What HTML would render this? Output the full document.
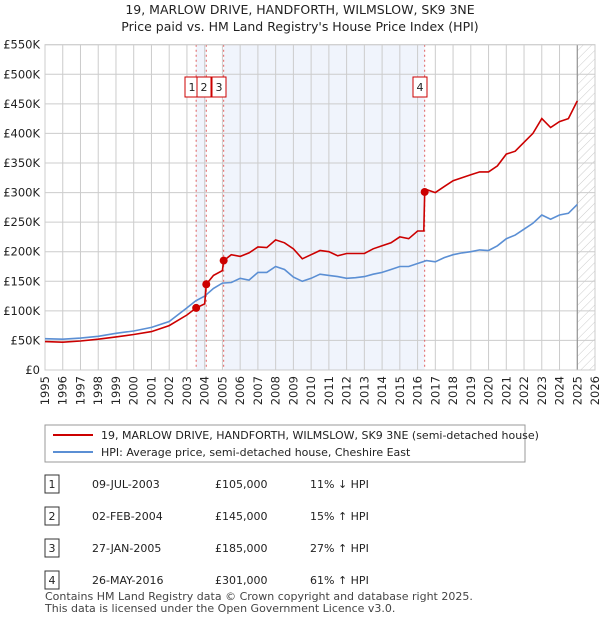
<!DOCTYPE html>
<html><head><meta charset="utf-8"><style>
body{margin:0;background:#fff;font-family:"Liberation Sans","DejaVu Sans",sans-serif;}
svg text{font-family:"DejaVu Sans","Liberation Sans",sans-serif;}
</style></head><body>
<svg id="chart" width="600" height="620" xmlns="http://www.w3.org/2000/svg">
<defs><pattern id="hatch" width="6" height="6" patternUnits="userSpaceOnUse" patternTransform="rotate(45)"><line x1="0" y1="0" x2="0" y2="6" stroke="#ccc" stroke-width="1"/></pattern></defs>
<text x="300" y="14" text-anchor="middle" font-size="12.5" fill="#222">19, MARLOW DRIVE, HANDFORTH, WILMSLOW, SK9 3NE</text>
<text x="300" y="31" text-anchor="middle" font-size="12.5" fill="#222">Price paid vs. HM Land Registry's House Price Index (HPI)</text>
<g id="plot"></g>
<g id="legend">
<rect x="45" y="425" width="480" height="37" fill="#fff" stroke="#999"/>
<line x1="53" y1="435" x2="93" y2="435" stroke="#cc0000" stroke-width="2"/>
<text x="101" y="439" font-size="11" fill="#222">19, MARLOW DRIVE, HANDFORTH, WILMSLOW, SK9 3NE (semi-detached house)</text>
<line x1="53" y1="452" x2="93" y2="452" stroke="#5b8fd4" stroke-width="2"/>
<text x="101" y="456" font-size="11" fill="#222">HPI: Average price, semi-detached house, Cheshire East</text>
</g>
<g id="table" font-size="11" fill="#222"></g>
<text x="45" y="600" font-size="11" fill="#444">Contains HM Land Registry data © Crown copyright and database right 2025.</text>
<text x="45" y="612" font-size="11" fill="#444">This data is licensed under the Open Government Licence v3.0.</text>
</svg>
<script>
const yTicks=[0,50,100,150,200,250,300,350,400,450,500,550];
const yTickLabels=["£0","£50K","£100K","£150K","£200K","£250K","£300K","£350K","£400K","£450K","£500K","£550K"];
const xYears=[1995,1996,1997,1998,1999,2000,2001,2002,2003,2004,2005,2006,2007,2008,2009,2010,2011,2012,2013,2014,2015,2016,2017,2018,2019,2020,2021,2022,2023,2024,2025,2026];
const hpiT=[1995,1996,1997,1998,1999,2000,2001,2002,2003,2003.5,2004,2004.5,2005,2005.5,2006,2006.5,2007,2007.5,2008,2008.5,2009,2009.5,2010,2010.5,2011,2011.5,2012,2012.5,2013,2013.5,2014,2014.5,2015,2015.5,2016,2016.5,2017,2017.5,2018,2018.5,2019,2019.5,2020,2020.5,2021,2021.5,2022,2022.5,2023,2023.5,2024,2024.5,2025];
const hpiV=[53,52,54,57,62,66,72,82,105,117,125,138,147,148,155,152,165,165,175,170,157,150,155,162,160,158,155,156,158,162,165,170,175,175,180,185,183,190,195,198,200,203,202,210,222,228,238,248,262,255,262,265,280];
const redT=[1995,1996,1997,1998,1999,2000,2001,2002,2003,2003.52,2004.0,2004.09,2004.5,2005.0,2005.07,2005.5,2006,2006.5,2007,2007.5,2008,2008.5,2009,2009.5,2010,2010.5,2011,2011.5,2012,2012.5,2013,2013.5,2014,2014.5,2015,2015.5,2016,2016.35,2016.4,2016.5,2017,2017.5,2018,2018.5,2019,2019.5,2020,2020.5,2021,2021.5,2022,2022.5,2023,2023.5,2024,2024.5,2025];
const redV=[48,47,49,52,56,60,65,75,93,105,112,145,160,168,185,195,192,198,208,207,220,215,205,188,195,202,200,193,197,197,197,205,210,215,225,222,235,235,301,305,300,310,320,325,330,335,335,345,365,370,385,400,425,410,420,425,455];
const saleT=[2003.52,2004.09,2005.07,2016.4];
const saleV=[105,145,185,301];
const saleLabels=["1","2","3","4"];
const saleDates=["09-JUL-2003","02-FEB-2004","27-JAN-2005","26-MAY-2016"];
const salePrices=["£105,000","£145,000","£185,000","£301,000"];
const saleHpi=["11% ↓ HPI","15% ↑ HPI","27% ↑ HPI","61% ↑ HPI"];
const labelOffset=[-12,-9,-11,-11];

const X0=45,X1=595,Y0=370,Y1=44.7;
const xs=t=>X0+(t-1995)/(2026-1995)*(X1-X0);
const ys=v=>Y0-v/550*(Y0-Y1);
const NS="http://www.w3.org/2000/svg";
const plot=document.getElementById('plot');
function mk(tag,attrs,parent){const e=document.createElementNS(NS,tag);for(const k in attrs)e.setAttribute(k,attrs[k]);(parent||plot).appendChild(e);return e;}
let r=mk('rect',{x:xs(saleT[0]),y:Y1,width:xs(saleT[1])-xs(saleT[0]),height:Y0-Y1,fill:'#f0f4fc'});


r=mk('rect',{x:xs(saleT[2]),y:Y1,width:xs(saleT[3])-xs(saleT[2]),height:Y0-Y1,fill:'#f0f4fc'});


r=mk('rect',{x:xs(2025),y:Y1,width:X1-xs(2025),height:Y0-Y1,fill:'url(#hatch)'});


xYears.forEach(y=>{mk('line',{x1:xs(y),x2:xs(y),y1:Y1,y2:Y0,stroke:'#ccc','stroke-width':1});
 const t=mk('text',{x:0,y:0,transform:`translate(${xs(y)+4},${Y0+6}) rotate(-90)`,'text-anchor':'end','font-size':11.5,fill:'#222'});t.textContent=y;
 
 });
yTicks.forEach((v,i)=>{mk('line',{x1:X0,x2:X1,y1:ys(v),y2:ys(v),stroke:'#ccc','stroke-width':1});
 const t=mk('text',{x:X0-5,y:ys(v)+4,'text-anchor':'end','font-size':11.5,fill:'#222'});t.textContent=yTickLabels[i];
 
 });
mk('line',{x1:xs(2025),x2:xs(2025),y1:Y1,y2:Y0,stroke:'#888','stroke-width':1});
saleT.forEach((t,i)=>{mk('line',{x1:xs(t),x2:xs(t),y1:Y1,y2:Y0,stroke:'#e06060','stroke-dasharray':'2,3','stroke-width':1});
 const g=mk('g',{});
 
 
 const bxx=i==1?xs(saleT[0])+2:(xs(t)+labelOffset[i]);
 const bx=i==0?185:(i==1?197:(i==2?212:413));
 mk('rect',{x:bx,y:77,width:14,height:20,fill:'#fff',stroke:'#cc0000'},g);
 const tx=mk('text',{x:bx+7,y:91,'text-anchor':'middle','font-size':11,fill:'#222'},g);tx.textContent=saleLabels[i];});
mk('rect',{x:X0,y:Y1,width:X1-X0,height:Y0-Y1,fill:'none',stroke:'#ccc'});
const pts=(T,V)=>T.map((t,i)=>xs(t).toFixed(1)+','+ys(V[i]).toFixed(1)).join(' ');
let l=mk('polyline',{points:pts(hpiT,hpiV),fill:'none',stroke:'#5b8fd4','stroke-width':1.6});


l=mk('polyline',{points:pts(redT,redV),fill:'none',stroke:'#cc0000','stroke-width':1.6});


saleT.forEach((t,i)=>{const c=mk('circle',{cx:xs(t),cy:ys(saleV[i]),r:4,fill:'#cc0000'});
 
 });
const tb=document.getElementById('table');
saleLabels.forEach((s,i)=>{const y=484+i*32;
 const g=mk('g',{},tb);
 
 
 mk('rect',{x:45,y:y-9,width:14,height:18,fill:'#fff',stroke:'#333'},g);
 let t=mk('text',{x:52,y:y+4,'text-anchor':'middle'},g);t.textContent=s;
 t=mk('text',{x:92,y:y+4},g);t.textContent=saleDates[i];
 t=mk('text',{x:215,y:y+4},g);t.textContent=salePrices[i];
 t=mk('text',{x:310,y:y+4},g);t.textContent=saleHpi[i];});
</script>
</body></html>
